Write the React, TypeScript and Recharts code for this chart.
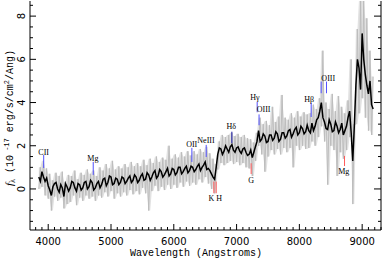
import {
  ComposedChart,
  Area,
  Line,
  XAxis,
  YAxis,
  ReferenceLine,
  ReferenceDot,
} from "recharts";

// observed wavelength (Angstroms)
const wavelength = [
  3850, 3900, 3950, 4000, 4050, 4100, 4150, 4200, 4250, 4300,
  4350, 4400, 4450, 4500, 4550, 4600, 4650, 4700, 4750, 4800,
  4850, 4900, 4950, 5000, 5050, 5100, 5150, 5200, 5250, 5300,
  5350, 5400, 5450, 5500, 5550, 5600, 5650, 5700, 5750, 5800,
  5850, 5900, 5950, 6000, 6050, 6100, 6150, 6200, 6250, 6300,
  6350, 6400, 6450, 6500, 6550, 6600, 6650, 6700, 6750, 6800,
  6850, 6900, 6950, 7000, 7050, 7100, 7150, 7200, 7250, 7300,
  7350, 7400, 7450, 7500, 7550, 7600, 7650, 7700, 7750, 7800,
  7850, 7900, 7950, 8000, 8050, 8100, 8150, 8200, 8250, 8300,
  8350, 8400, 8450, 8500, 8550, 8600, 8650, 8700, 8750, 8800,
  8850, 8900, 8950, 9000, 9050, 9100, 9150,
];
const halfStep = 25;

// smoothed flux (black), at each wavelength
const fluxSmoothed = [
  0.55, 0.8, 0.35, 0.15, -0.3, 0.25, 0.0, 0.2, -0.35, 0.1,
  0.05, 0.3, -0.1, 0.2, 0.05, 0.35, 0.1, 0.3, 0.05, 0.35,
  0.2, 0.5, 0.3, 0.55, 0.25, 0.45, 0.3, 0.5, 0.35, 0.6,
  0.4, 0.55, 0.4, 0.7, 0.45, 0.65, 0.55, 0.85, 0.6, 0.8,
  0.65, 0.95, 0.7, 0.9, 0.75, 1.0, 0.8, 1.05, 0.85, 1.0,
  0.9, 1.15, 1.0, 1.25, 0.95, 0.7, 0.45, 1.6, 1.85, 1.75,
  1.85, 1.95, 1.8, 1.9, 1.75, 1.85, 1.7, 1.6, 1.45, 1.95,
  2.7, 2.3, 2.45, 2.2, 2.5, 2.35, 2.55, 2.3, 2.6, 2.45,
  2.75, 2.55, 2.85, 2.6, 2.8, 2.65, 2.7, 3.05, 2.9, 3.3,
  4.0, 3.1, 2.75, 3.0, 2.7, 2.9, 2.75, 2.5, 2.9, 3.6,
  1.3, 4.8, 5.6, 7.2, 5.3, 4.4, 3.9,
];

// smoothed flux (black), half a step further
const fluxSmoothedMid = [
  0.35, 0.55, 0.5, -0.05, 0.1, 0.3, -0.15, 0.05, 0.25, -0.1,
  0.35, 0.05, 0.25, -0.05, 0.3, 0.0, 0.4, -0.05, 0.25, 0.05,
  0.45, 0.15, 0.6, 0.2, 0.5, 0.2, 0.55, 0.25, 0.5, 0.3,
  0.65, 0.3, 0.6, 0.4, 0.75, 0.4, 0.75, 0.5, 0.9, 0.55,
  0.8, 0.6, 0.95, 0.65, 1.0, 0.7, 0.95, 0.75, 1.05, 0.8,
  1.05, 0.85, 1.1, 0.9, 0.85, 0.55, 1.0, 1.9, 1.6, 2.0,
  1.7, 2.05, 1.7, 1.95, 1.65, 1.9, 1.55, 1.8, 1.7, 2.2,
  2.2, 2.55, 2.15, 2.5, 2.25, 2.65, 2.2, 2.6, 2.35, 2.7,
  2.4, 2.75, 2.5, 2.9, 2.55, 2.95, 2.6, 2.7, 3.2, 3.6,
  3.3, 2.8, 3.2, 2.65, 3.1, 2.6, 3.05, 2.7, 3.3, 2.6,
  2.9, 6.0, 4.6, 6.0, 4.8, 5.0, 3.7,
];

// raw spectrum (grey): lows at each wavelength, highs half a step further
const fluxLow = [
  0.0, 0.1, -0.3, -0.45, -1.0, -0.35, -0.55, -0.4, -0.9, -0.7,
  -0.6, -0.3, -0.75, -0.4, -0.55, -0.3, -0.45, -0.35, -0.55, -0.3,
  -0.4, -0.15, -0.35, -0.1, -0.45, -0.2, -0.35, -0.15, -0.3, -0.05,
  -0.25, -0.1, -0.25, 0.05, -0.2, -1.0, -0.1, 0.15, -0.1, 0.1,
  -0.05, 0.2, 0.0, 0.2, 0.05, 0.3, 0.1, 0.35, 0.15, 0.3,
  0.2, 0.45, 0.3, 0.55, 0.25, 0.0, -0.2, 0.9, 1.2, 1.1,
  1.2, 1.3, 1.15, 1.25, 1.1, 1.2, 1.0, 0.95, 0.6, 1.3,
  2.0, 1.6, 0.8, 1.5, 1.8, 1.6, 1.85, 1.6, 1.9, 1.7,
  1.9, 1.0, 2.0, 1.8, 2.0, 1.85, 1.9, 2.2, 2.0, 2.4,
  2.9, 2.2, 0.2, 2.0, 1.8, 0.6, 1.7, 1.4, 1.8, 2.4,
  -0.7, 3.0, 3.5, 4.2, 3.3, 2.7, 2.5,
];

const fluxHigh = [
  1.0, 1.3, 0.95, 0.7, 0.4, 0.75, 0.6, 0.8, 0.35, 0.65,
  0.6, 0.85, 0.45, 0.75, 0.65, 0.9, 0.7, 0.85, 0.6, 1.0,
  0.85, 1.15, 0.95, 1.3, 0.9, 1.05, 0.95, 1.15, 1.0, 1.25,
  1.05, 1.2, 1.05, 1.35, 1.1, 1.4, 1.2, 1.5, 1.25, 1.45,
  1.35, 2.0, 1.4, 1.6, 1.45, 1.7, 1.5, 1.75, 1.55, 1.75,
  1.6, 1.85, 1.7, 1.95, 1.65, 1.4, 1.15, 2.2, 2.5, 2.4,
  2.5, 2.6, 2.45, 2.55, 2.4, 2.5, 2.35, 2.3, 2.15, 2.6,
  3.3, 3.0, 3.15, 2.95, 3.8, 3.1, 3.35, 4.35, 3.3, 3.2,
  3.5, 3.3, 3.6, 3.35, 3.55, 3.45, 3.5, 3.9, 3.7, 4.2,
  6.4, 4.0, 3.7, 4.4, 3.6, 4.3, 3.8, 3.5, 4.1, 6.0,
  3.0, 7.4, 8.8, 8.8, 7.9, 6.4, 5.2,
];

const xMajorTicks = [4000, 5000, 6000, 7000, 8000, 9000];
const yMajorTicks = [0, 2, 4, 6, 8];
const xMinorTicks = Array.from({ length: 56 }, (_, i) => 3800 + i * 100);
const yMinorTicks = Array.from({ length: 21 }, (_, i) => -1.5 + i * 0.5);

// emission features (blue, above the spectrum)
const emission = [
  { at: 3928, from: 0.97, to: 1.57, dark: false },
  { at: 4717, from: 0.65, to: 1.25, dark: false },
  { at: 6288, from: 1.25, to: 1.9, dark: false },
  { at: 6516, from: 1.48, to: 2.04, dark: false },
  { at: 6925, from: 2.12, to: 2.65, dark: true },
  { at: 7328, from: 3.55, to: 4.04, dark: false },
  { at: 7358, from: 2.95, to: 3.45, dark: false },
  { at: 8188, from: 3.33, to: 3.98, dark: false },
  { at: 8347, from: 4.43, to: 4.97, dark: false },
  { at: 8432, from: 4.43, to: 4.97, dark: false },
];

// absorption features (red, below the spectrum)
const absorption = [
  { at: 6638, from: -0.2, to: 0.34 },
  { at: 6675, from: -0.2, to: 0.34 },
  { at: 7232, from: 0.69, to: 1.19 },
  { at: 8719, from: 1.06, to: 1.53 },
];

const featureLabels = [
  { text: "CII", at: 3928, y: 1.72 },
  { text: "Mg", at: 4712, y: 1.43 },
  { text: "OII", at: 6285, y: 2.07 },
  { text: "NeIII", at: 6513, y: 2.27 },
  { text: "Hδ", at: 6915, y: 2.92 },
  { text: "Hγ", at: 7290, y: 4.23 },
  { text: "OIII", at: 7431, y: 3.69 },
  { text: "Hβ", at: 8156, y: 4.15 },
  { text: "OIII", at: 8460, y: 5.15 },
  { text: "K H", at: 6660, y: -0.42 },
  { text: "G", at: 7232, y: 0.42 },
  { text: "Mg", at: 8708, y: 0.83 },
];

const table = wavelength.flatMap((w, i) => [
  { w, flux: fluxSmoothed[i], raw: fluxLow[i], band: [fluxLow[i], fluxHigh[i]] },
  { w: w + halfStep, flux: fluxSmoothedMid[i], raw: fluxHigh[i], band: [fluxLow[i], fluxHigh[i]] },
]);

const tickFont = "DejaVu Sans";

const BottomTick = (props: any) => {
  const { x, y, payload } = props;
  const major = xMajorTicks.includes(payload.value);
  return (
    <g>
      <line x1={x} y1={y} x2={x} y2={y - (major ? 6 : 3)} stroke="#000" />
      {major && (
        <text x={x} y={y + 15} textAnchor="middle" fontSize={10} fontFamily={tickFont} fill="#000">
          {payload.value}
        </text>
      )}
    </g>
  );
};

const TopTick = (props: any) => {
  const { x, y, payload } = props;
  const major = xMajorTicks.includes(payload.value);
  return <line x1={x} y1={y} x2={x} y2={y + (major ? 6 : 3)} stroke="#000" />;
};

const LeftTick = (props: any) => {
  const { x, y, payload } = props;
  const major = yMajorTicks.includes(payload.value);
  const tx = x - 8;
  return (
    <g>
      <line x1={x} y1={y} x2={x + (major ? 6 : 3)} y2={y} stroke="#000" />
      {major && (
        <text
          x={tx}
          y={y}
          transform={`rotate(-90 ${tx} ${y})`}
          textAnchor="middle"
          dominantBaseline="central"
          fontSize={10}
          fontFamily={tickFont}
          fill="#000"
        >
          {payload.value}
        </text>
      )}
    </g>
  );
};

const RightTick = (props: any) => {
  const { x, y, payload } = props;
  const major = yMajorTicks.includes(payload.value);
  return <line x1={x} y1={y} x2={x - (major ? 7 : 3)} y2={y} stroke="#000" />;
};

export default function App() {
  return (
    <div style={{ position: "absolute", left: 0, top: 0, width: 382, height: 262, background: "#fff" }}>
      <ComposedChart
        width={382}
        height={262}
        data={table}
        margin={{ top: 1, right: 0, bottom: 1, left: 0 }}
      >
        <XAxis
          dataKey="w"
          type="number"
          domain={[3710, 9300]}
          allowDataOverflow
          ticks={xMinorTicks}
          interval={0}
          tick={<BottomTick />}
          tickLine={false}
          tickSize={0}
          tickMargin={0}
          height={31}
          axisLine={{ stroke: "#000" }}
        />
        <XAxis
          xAxisId="top"
          orientation="top"
          type="number"
          domain={[3710, 9300]}
          allowDataOverflow
          ticks={xMinorTicks}
          interval={0}
          tick={<TopTick />}
          tickLine={false}
          tickSize={0}
          tickMargin={0}
          height={0}
          axisLine={{ stroke: "#000" }}
        />
        <YAxis
          type="number"
          domain={[-1.9, 8.7]}
          allowDataOverflow
          ticks={yMinorTicks}
          interval={0}
          tick={<LeftTick />}
          tickLine={false}
          tickSize={0}
          tickMargin={0}
          width={30}
          axisLine={{ stroke: "#000" }}
        />
        <YAxis
          yAxisId="right"
          orientation="right"
          type="number"
          domain={[-1.9, 8.7]}
          allowDataOverflow
          ticks={yMinorTicks}
          interval={0}
          tick={<RightTick />}
          tickLine={false}
          tickSize={0}
          tickMargin={0}
          width={1}
          axisLine={{ stroke: "#000" }}
        />

        <Area
          dataKey="band"
          type="linear"
          fill="#e2e2e2"
          fillOpacity={1}
          stroke="none"
          dot={false}
          activeDot={false}
          isAnimationActive={false}
        />
        <Line
          dataKey="raw"
          type="linear"
          stroke="#bdbdbd"
          strokeWidth={1}
          dot={false}
          activeDot={false}
          isAnimationActive={false}
        />
        <Line
          dataKey="flux"
          type="linear"
          stroke="#000"
          strokeWidth={1.5}
          dot={false}
          activeDot={false}
          isAnimationActive={false}
        />

        {emission.map((l, i) => (
          <ReferenceLine
            key={"e" + i}
            segment={[
              { x: l.at, y: l.from },
              { x: l.at, y: l.to },
            ]}
            stroke={l.dark ? "#1a1aa8" : "#5050ff"}
            strokeWidth={1}
          />
        ))}
        {absorption.map((l, i) => (
          <ReferenceLine
            key={"a" + i}
            segment={[
              { x: l.at, y: l.from },
              { x: l.at, y: l.to },
            ]}
            stroke="#ff5a5a"
            strokeWidth={1}
          />
        ))}
        {featureLabels.map((f, i) => (
          <ReferenceDot
            key={"l" + i}
            x={f.at}
            y={f.y}
            r={0}
            fill="none"
            stroke="none"
            label={{
              value: f.text,
              position: "center",
              fontSize: 8,
              fontFamily: "Liberation Serif",
              fill: "#000",
            }}
          />
        ))}

        <text x={130} y={256} fontSize={10} fontFamily="Liberation Mono" fill="#000">
          Wavelength (Angstroms)
        </text>
        <text
          x={13}
          y={118}
          transform="rotate(-90 13 118)"
          textAnchor="middle"
          fontSize={10}
          fontFamily="Liberation Mono"
          fill="#000"
        >
          <tspan fontStyle="italic" fontFamily="Liberation Serif" fontSize={11}>f</tspan>
          <tspan fontFamily="Liberation Serif" fontSize={8} dy={2}>λ</tspan>
          <tspan dy={-2}> (10</tspan>
          <tspan fontSize={7} dy={-4}> -17</tspan>
          <tspan dy={4}> erg/s/cm</tspan>
          <tspan fontSize={7} dy={-4}>2</tspan>
          <tspan dy={4}>/Ang)</tspan>
        </text>
      </ComposedChart>
    </div>
  );
}
